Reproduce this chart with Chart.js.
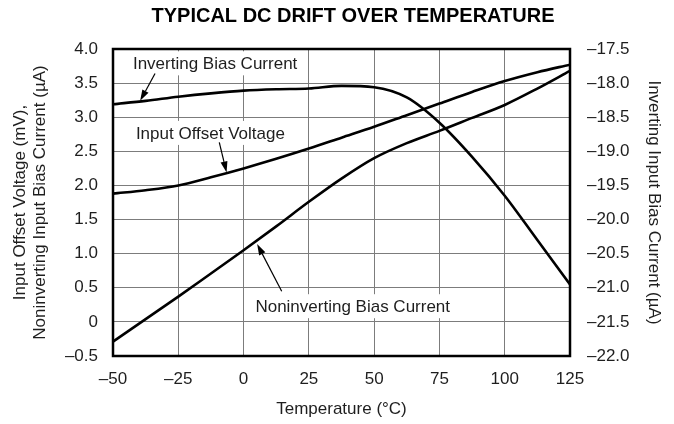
<!DOCTYPE html>
<html>
<head>
<meta charset="utf-8">
<script src="https://cdn.jsdelivr.net/npm/chart.js@4/dist/chart.umd.min.js"></script>
<style>
  html, body { margin: 0; padding: 0; background: #fff; }
  #wrap { width: 674px; height: 424px; position: relative; }
</style>
</head>
<body>
<div id="wrap"><canvas id="chart-drift"></canvas></div>
<script>
// values
var temps = [-50, -37.5, -25, -12.5, 0, 12.5, 25, 37.5, 50, 62.5, 75, 87.5, 100, 112.5, 125];
var offsetVoltage = [1.88, 1.93, 2.00, 2.12, 2.25, 2.39, 2.54, 2.70, 2.86, 3.03, 3.20, 3.37, 3.53, 3.66, 3.77];
var noninvBias = [-0.29, 0.04, 0.37, 0.71, 1.05, 1.40, 1.76, 2.10, 2.40, 2.62, 2.80, 2.99, 3.18, 3.42, 3.68];
var invBias = [-18.31, -18.26, -18.20, -18.15, -18.11, -18.09, -18.08, -18.04, -18.06, -18.21, -18.58, -19.08, -19.65, -20.30, -20.95];

var xTicks = [-50, -25, 0, 25, 50, 75, 100, 125];
var leftTicks = [-0.5, 0, 0.5, 1.0, 1.5, 2.0, 2.5, 3.0, 3.5, 4.0];
var rightTicks = [-22.0, -21.5, -21.0, -20.5, -20.0, -19.5, -19.0, -18.5, -18.0, -17.5];

// callouts: text position and arrow (from -> to), in data units of the left axis
var callouts = [
  { text: "Inverting Bias Current", x: -10.9, y: 3.79, from: [-33.9, 3.64], to: [-39.6, 3.24] },
  { text: "Input Offset Voltage", x: -12.7, y: 2.77, from: [-9.3, 2.63], to: [-6.5, 2.19] },
  { text: "Noninverting Bias Current", x: 41.8, y: 0.23, from: [14.6, 0.45], to: [5.2, 1.14] }
];

var FONT = "'Liberation Sans', Arial, Helvetica, sans-serif";
var GRID = "#7c7c7c";
var TXT = "#1e1e1e";

function pts(ys){ return temps.map(function(t, i){ return { x: t, y: ys[i] }; }); }
function fmt(v, digits){
  if (v === 0) return "0";
  var s = digits ? Math.abs(v).toFixed(1) : String(Math.abs(v));
  return (v < 0 ? "\u2013" : "") + s;
}

var framePlugin = {
  id: "frame",
  beforeDatasetsDraw: function(chart){
    var ctx = chart.ctx, sx = chart.scales.x, sy = chart.scales.y;
    ctx.save();
    ctx.font = "17px " + FONT;
    ctx.textAlign = "center";
    ctx.textBaseline = "middle";
    callouts.forEach(function(c){
      var px = sx.getPixelForValue(c.x), py = sy.getPixelForValue(c.y);
      var w = ctx.measureText(c.text).width;
      ctx.fillStyle = "#fff";
      ctx.fillRect(px - w / 2 - 3, py - 12, w + 6, 24);
      ctx.fillStyle = TXT;
      ctx.fillText(c.text, px, py + 1);
    });
    ctx.restore();
  },
  afterDatasetsDraw: function(chart){
    var ctx = chart.ctx, a = chart.chartArea, sx = chart.scales.x, sy = chart.scales.y;
    ctx.save();
    ctx.strokeStyle = "#000";
    ctx.fillStyle = "#000";
    ctx.lineWidth = 1.2;
    callouts.forEach(function(c){
      var x1 = sx.getPixelForValue(c.from[0]), y1 = sy.getPixelForValue(c.from[1]);
      var x2 = sx.getPixelForValue(c.to[0]), y2 = sy.getPixelForValue(c.to[1]);
      var ang = Math.atan2(y2 - y1, x2 - x1), hl = 11, hw = 3.5;
      var bx = x2 - hl * Math.cos(ang), by = y2 - hl * Math.sin(ang);
      ctx.beginPath(); ctx.moveTo(x1, y1); ctx.lineTo(bx, by); ctx.stroke();
      ctx.beginPath();
      ctx.moveTo(x2, y2);
      ctx.lineTo(bx + hw * Math.sin(ang), by - hw * Math.cos(ang));
      ctx.lineTo(bx - hw * Math.sin(ang), by + hw * Math.cos(ang));
      ctx.closePath(); ctx.fill();
    });
    ctx.lineWidth = 2.5;
    ctx.strokeRect(a.left, a.top, a.right - a.left, a.bottom - a.top);
    // title
    ctx.font = "bold 20px " + FONT;
    ctx.textAlign = "center";
    ctx.textBaseline = "middle";
    ctx.fillText("TYPICAL DC DRIFT OVER TEMPERATURE", 353, 16);
    ctx.restore();
  }
};

var lineStyle = { borderColor: "#000", borderWidth: 2.6, pointRadius: 0, fill: false, cubicInterpolationMode: "monotone" };
var tickFont = { family: FONT, size: 17 };

new Chart(document.getElementById("chart-drift"), {
  type: "line",
  data: {
    datasets: [
      Object.assign({ label: "Input Offset Voltage", data: pts(offsetVoltage), yAxisID: "y" }, lineStyle),
      Object.assign({ label: "Noninverting Bias Current", data: pts(noninvBias), yAxisID: "y" }, lineStyle),
      Object.assign({ label: "Inverting Bias Current", data: pts(invBias), yAxisID: "y2" }, lineStyle)
    ]
  },
  options: {
    responsive: true, maintainAspectRatio: false, animation: false,
    layout: { padding: { top: 49, left: 0, right: 0, bottom: 0 } },
    plugins: { legend: { display: false }, tooltip: { enabled: false }, title: { display: false } },
    scales: {
      x: {
        type: "linear", min: -50, max: 125,
        afterBuildTicks: function(s){ s.ticks = xTicks.map(function(v){ return { value: v }; }); },
        afterFit: function(s){ s.height = 68; },
        ticks: { color: TXT, font: tickFont, padding: 13, callback: function(v){ return fmt(v, false); } },
        grid: { color: GRID, lineWidth: 1, drawTicks: false },
        border: { display: false },
        title: { display: true, text: "Temperature (\u00B0C)", color: TXT, font: tickFont, padding: { top: 0, bottom: 4 } }
      },
      y: {
        position: "left", min: -0.5, max: 4.0,
        afterBuildTicks: function(s){ s.ticks = leftTicks.map(function(v){ return { value: v }; }); },
        afterFit: function(s){ s.width = 113; },
        ticks: { color: TXT, font: tickFont, padding: 15, callback: function(v){ return fmt(v, true); } },
        grid: { color: GRID, lineWidth: 1, drawTicks: false },
        border: { display: false },
        title: { display: true, text: ["Input Offset Voltage (mV),", "Noninverting Input Bias Current (\u00B5A)"], color: TXT,
                 font: { family: FONT, size: 17, lineHeight: 1.15 }, padding: { top: 11, bottom: 0 } }
      },
      y2: {
        position: "right", min: -22.0, max: -17.5,
        afterBuildTicks: function(s){ s.ticks = rightTicks.map(function(v){ return { value: v }; }); },
        afterFit: function(s){ s.width = 104; },
        ticks: { color: TXT, font: tickFont, padding: 17, callback: function(v){ return fmt(v, true); } },
        grid: { display: false, drawTicks: false },
        border: { display: false },
        title: { display: true, text: "Inverting Input Bias Current (\u00B5A)", color: TXT,
                 font: tickFont, padding: { top: 10, bottom: 0 } }
      }
    }
  },
  plugins: [framePlugin]
});
</script>
</body>
</html>
